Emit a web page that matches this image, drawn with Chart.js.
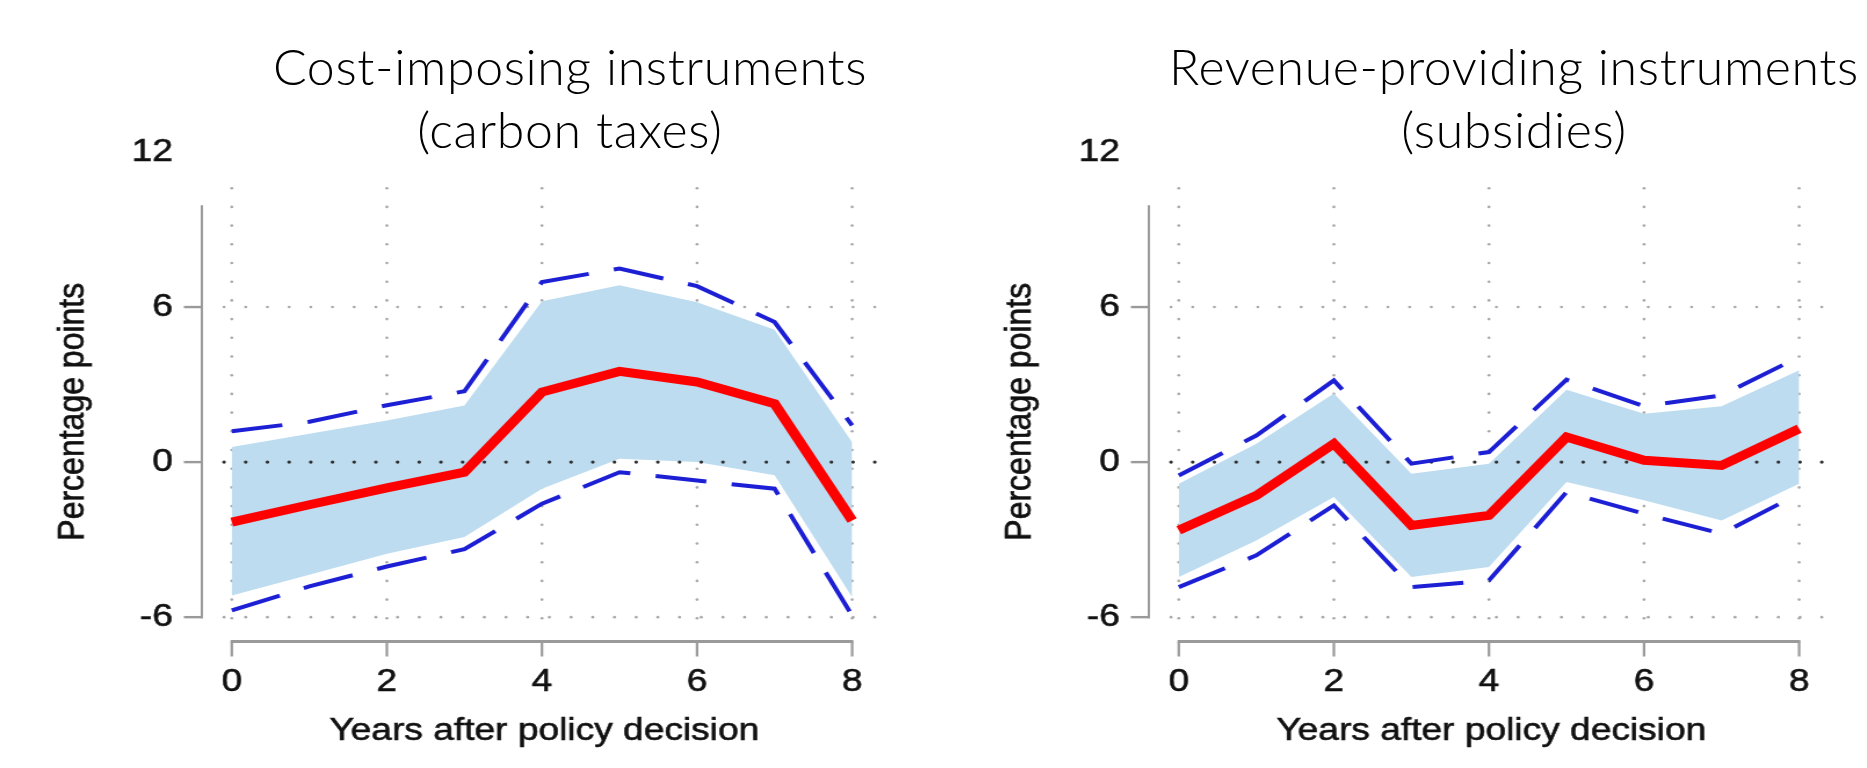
<!DOCTYPE html>
<html>
<head>
<meta charset="utf-8">
<script src="https://cdn.jsdelivr.net/npm/chart.js@4.4.1/dist/chart.umd.min.js"></script>
<style>
  html, body { margin: 0; padding: 0; background: #fff; width: 1867px; height: 768px; overflow: hidden; }
  .panel { position: absolute; top: 0; width: 770px; height: 768px; transform-origin: 0 0; transform: scaleX(1.16); }
  .panel canvas { display: block; }
  .title { position: absolute; top: 35px; width: 800px; text-align: center;
           font-family: Lato, "Liberation Sans", Arial, sans-serif; font-weight: 300;
           font-size: 50px; line-height: 63px; letter-spacing: 0.65px; color: #000; }
</style>
</head>
<body>
<div class="title" style="left:170px">Cost-imposing instruments<br>(carbon taxes)</div>
<div class="title" style="left:1114px">Revenue-providing instruments<br>(subsidies)</div>
<div class="panel" style="left:0px"><canvas id="taxes" width="770" height="768"></canvas></div>
<div class="panel" style="left:947px"><canvas id="subsidies" width="770" height="768"></canvas></div>

<script>
// Horizon in years after the policy decision
const years = [0, 1, 2, 3, 4, 5, 6, 7, 8];
const xTickValues = [0, 2, 4, 6, 8];
const yTickValues = [-6, 0, 6, 12];

// Cost-imposing instruments (carbon taxes): point estimate, inner band, outer bounds
const taxPoint  = [-2.32, -1.65, -1.00, -0.39, 2.71, 3.51, 3.10, 2.26, -2.26];
const taxBandHi = [0.58, 1.10, 1.61, 2.19, 6.22, 6.84, 6.19, 5.12, 0.77];
const taxBandLo = [-5.16, -4.36, -3.55, -2.90, -1.03, 0.13, 0.00, -0.51, -5.23];
const taxCiHi   = [1.19, 1.56, 2.20, 2.74, 6.97, 7.49, 6.81, 5.42, 1.42];
const taxCiLo   = [-5.74, -4.81, -4.04, -3.37, -1.61, -0.39, -0.71, -1.03, -5.94];

// Revenue-providing instruments (subsidies)
const subPoint  = [-2.64, -1.29, 0.71, -2.45, -2.06, 0.97, 0.07, -0.13, 1.29];
const subBandHi = [-0.84, 0.71, 2.65, -0.45, -0.06, 2.80, 1.87, 2.16, 3.55];
const subBandLo = [-4.45, -3.03, -1.35, -4.45, -4.06, -0.77, -1.48, -2.26, -0.84];
const subCiHi   = [-0.52, 1.03, 3.16, -0.06, 0.39, 3.19, 2.16, 2.58, 4.07];
const subCiLo   = [-4.84, -3.61, -1.68, -4.84, -4.58, -1.16, -2.00, -2.77, -1.22];

const FONT = '"Liberation Sans", Arial, Helvetica, sans-serif';
const X_MIN = -0.386, X_MAX = 8.38;
const Y_MIN = -7.0, Y_MAX = 12;
const PLOT_TOP = 10.9;          // upper edge of the plot region
const AXIS_TOP = 9.94;          // where the drawn y axis line ends
const GRID_TOP = 10.6, GRID_BOTTOM = -6.25, HGRID_LEFT = -0.1;
const DOT_STEP = 18.7;

const RED = '#ff0000';
const BLUE = '#1c1fd4';
const BAND = '#bddcf0';
const AXIS_GRAY = '#9a9a9a';
const GRID_DOT = '#a8a8a8';
const TEXT = '#111111';

const toXY = (vals) => years.map((x, i) => ({ x, y: vals[i] }));

function dot(ctx, x, y, r, color) {
  ctx.fillStyle = color;
  ctx.beginPath();
  ctx.arc(x, y, r, 0, Math.PI * 2);
  ctx.fill();
}

function axisText(ctx, text, x, y, rotation) {
  ctx.save();
  ctx.translate(x, y);
  if (rotation) ctx.rotate(rotation);
  ctx.font = '32px ' + FONT;
  ctx.textAlign = 'center';
  ctx.textBaseline = 'middle';
  ctx.fillStyle = TEXT;
  ctx.strokeStyle = TEXT;
  ctx.lineWidth = 0.6;
  ctx.fillText(text, 0, 0);
  ctx.strokeText(text, 0, 0);
  ctx.restore();
}

// Dotted grid, axis lines, ticks and axis titles, drawn from the scales
const stataFrame = {
  id: 'stataFrame',
  beforeDatasetsDraw(chart) {
    const { ctx, scales: { x, y } } = chart;
    ctx.save();
    // vertical dotted grid at labelled years
    const gTop = y.getPixelForValue(GRID_TOP), gBot = y.getPixelForValue(GRID_BOTTOM);
    for (const v of xTickValues) {
      const px = x.getPixelForValue(v);
      for (let py = gTop; py <= gBot + 0.5; py += DOT_STEP) dot(ctx, px, py, 1.3, GRID_DOT);
    }
    // horizontal dotted grid at +/-6
    const hL = x.getPixelForValue(HGRID_LEFT), hR = x.getPixelForValue(X_MAX);
    for (const v of [6, -6]) {
      const py = y.getPixelForValue(v);
      for (let px = hL; px <= hR; px += DOT_STEP) dot(ctx, px, py, 1.3, GRID_DOT);
    }
    ctx.restore();
  },
  afterDatasetDraw(chart, args) {
    // zero reference line sits on top of the shaded band
    if (args.index !== 3) return;
    const { ctx, scales: { x, y } } = chart;
    ctx.save();
    const py = y.getPixelForValue(0);
    const hL = x.getPixelForValue(HGRID_LEFT), hR = x.getPixelForValue(X_MAX);
    for (let px = hL; px <= hR; px += DOT_STEP) dot(ctx, px, py, 1.6, '#2e2e2e');
    ctx.restore();
  },
  afterDraw(chart) {
    const { ctx, chartArea: ca, scales: { x, y } } = chart;
    ctx.save();
    ctx.strokeStyle = AXIS_GRAY;
    ctx.lineCap = 'butt';
    // y axis line
    ctx.lineWidth = 2;
    ctx.beginPath();
    ctx.moveTo(ca.left, y.getPixelForValue(AXIS_TOP));
    ctx.lineTo(ca.left, y.getPixelForValue(-6) + 1.2);
    ctx.stroke();
    // y ticks
    ctx.lineWidth = 2.4;
    for (const v of [6, 0, -6]) {
      const py = y.getPixelForValue(v);
      ctx.beginPath();
      ctx.moveTo(ca.left - 15.5, py);
      ctx.lineTo(ca.left + 1, py);
      ctx.stroke();
    }
    // x axis line
    const ay = ca.bottom - 1.5;
    ctx.lineWidth = 3;
    ctx.beginPath();
    ctx.moveTo(x.getPixelForValue(0) - 1, ay);
    ctx.lineTo(x.getPixelForValue(8) + 1, ay);
    ctx.stroke();
    // x ticks
    ctx.lineWidth = 2.2;
    for (const v of xTickValues) {
      const px = x.getPixelForValue(v);
      ctx.beginPath();
      ctx.moveTo(px, ay);
      ctx.lineTo(px, ay + 15);
      ctx.stroke();
    }
    ctx.restore();
    // axis titles
    const cy = (y.getPixelForValue(Y_MIN) + y.getPixelForValue(PLOT_TOP)) / 2;
    axisText(ctx, 'Percentage points', ca.left - 110.8, cy, -Math.PI / 2);
    const cx = (x.getPixelForValue(0) + x.getPixelForValue(8)) / 2 + 2;
    axisText(ctx, 'Years after policy decision', cx, ca.bottom + 88, 0);
  }
};

function makeChart(id, point, bandLo, bandHi, ciLo, ciHi) {
  const line = { pointRadius: 0, pointHoverRadius: 0, tension: 0, fill: false };
  const tickFont = { family: FONT, size: 32 };
  return new Chart(document.getElementById(id), {
    type: 'line',
    data: {
      datasets: [
        { ...line, label: 'Estimate', data: toXY(point), borderColor: RED, borderWidth: 9 },
        { ...line, label: 'Upper bound', data: toXY(ciHi), borderColor: BLUE, borderWidth: 4, borderDash: [44, 22] },
        { ...line, label: 'Lower bound', data: toXY(ciLo), borderColor: BLUE, borderWidth: 4, borderDash: [44, 22] },
        { ...line, label: 'Band upper', data: toXY(bandHi), borderWidth: 0, borderColor: 'rgba(0,0,0,0)', backgroundColor: BAND, fill: '+1' },
        { ...line, label: 'Band lower', data: toXY(bandLo), borderWidth: 0, borderColor: 'rgba(0,0,0,0)' }
      ]
    },
    options: {
      responsive: false,
      animation: false,
      devicePixelRatio: 1,
      layout: { padding: { top: 152, left: 0, right: 10, bottom: 0 } },
      plugins: { legend: { display: false }, tooltip: { enabled: false }, title: { display: false } },
      scales: {
        x: {
          type: 'linear', min: X_MIN, max: X_MAX,
          afterBuildTicks: (s) => { s.ticks = xTickValues.map((v) => ({ value: v })); },
          afterFit: (s) => { s.height = 125; },
          grid: { display: false, drawTicks: false },
          border: { display: false },
          ticks: { color: TEXT, font: tickFont, padding: 20, maxRotation: 0, autoSkip: false,
                   textStrokeColor: TEXT, textStrokeWidth: 0.6, callback: (v) => String(v) }
        },
        y: {
          type: 'linear', min: Y_MIN, max: Y_MAX,
          afterBuildTicks: (s) => { s.ticks = yTickValues.map((v) => ({ value: v })); },
          afterFit: (s) => { s.width = 174; },
          grid: { display: false, drawTicks: false },
          border: { display: false },
          ticks: { color: TEXT, font: tickFont, padding: 25, autoSkip: false,
                   textStrokeColor: TEXT, textStrokeWidth: 0.6, callback: (v) => String(v) }
        }
      }
    },
    plugins: [stataFrame]
  });
}

makeChart('taxes', taxPoint, taxBandLo, taxBandHi, taxCiLo, taxCiHi);
makeChart('subsidies', subPoint, subBandLo, subBandHi, subCiLo, subCiHi);
</script>
</body>
</html>
